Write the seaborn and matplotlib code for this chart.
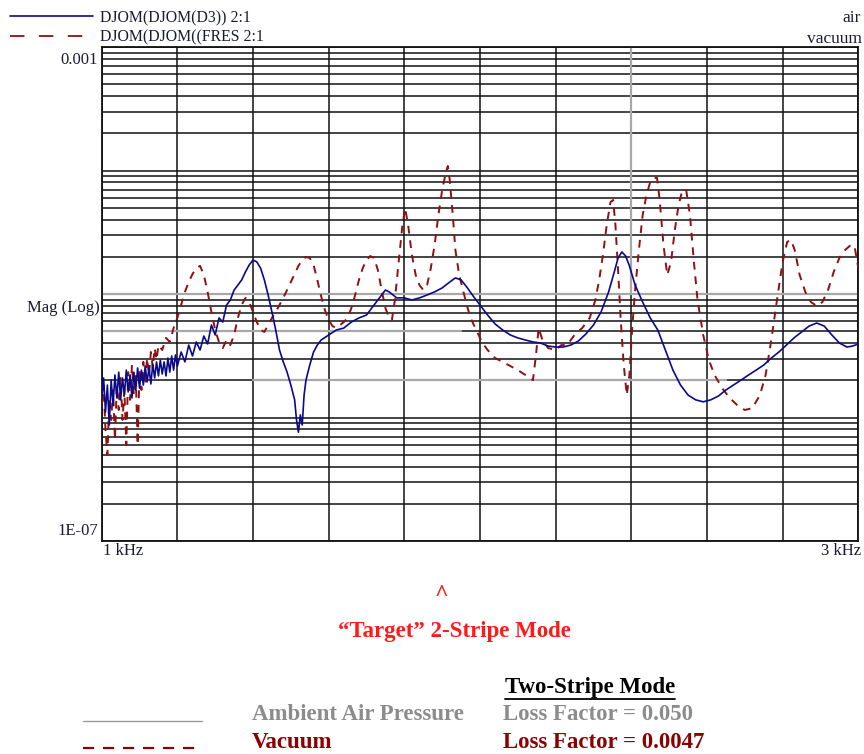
import numpy as np
import pandas as pd
import matplotlib
matplotlib.use("Agg")
import matplotlib.pyplot as plt
from matplotlib.lines import Line2D
from matplotlib.ticker import LogLocator, MultipleLocator, NullFormatter
import seaborn as sns

# ---------------- data ----------------
air_freq = [1000, 1005, 1010, 1015, 1020, 1025, 1030, 1035, 1040, 1045, 1050, 1055, 1060, 1065, 1070,
            1075, 1080, 1085, 1090, 1095, 1100, 1105, 1110, 1115, 1120, 1125, 1130, 1135, 1140, 1145,
            1150, 1155, 1160, 1165, 1170, 1175, 1180, 1185, 1190, 1195, 1200, 1210, 1220, 1230, 1240,
            1250, 1260, 1270, 1280, 1290, 1300, 1310, 1320, 1330, 1340, 1350, 1360, 1370, 1380, 1390,
            1400, 1410, 1420, 1430, 1440, 1450, 1460, 1470, 1480, 1490, 1500, 1510, 1515, 1520, 1525,
            1530, 1535, 1540, 1550, 1560, 1570, 1580, 1600, 1620, 1640, 1660, 1680, 1700, 1720, 1740,
            1750, 1760, 1780, 1800, 1820, 1840, 1860, 1880, 1900, 1920, 1935, 1950, 1965, 1980, 2000,
            2020, 2040, 2060, 2080, 2100, 2120, 2140, 2160, 2180, 2200, 2220, 2240, 2260, 2280, 2300,
            2320, 2340, 2355, 2365, 2375, 2385, 2395, 2410, 2430, 2450, 2470, 2490, 2510, 2530, 2550,
            2570, 2590, 2610, 2630, 2650, 2670, 2690, 2710, 2730, 2750, 2770, 2790, 2810, 2830, 2850,
            2870, 2890, 2910, 2930, 2950, 2970, 2985, 3000]
air_mag = [1.39e-6, 2.09e-6, 1.11e-6, 1.83e-6, 8.7e-7, 2.01e-6, 1.26e-6, 2.21e-6, 1.44e-6, 2.33e-6,
           1.39e-6, 2.09e-6, 1.52e-6, 2.42e-6, 1.61e-6, 2.21e-6, 1.44e-6, 2.33e-6, 1.67e-6, 2.52e-6,
           1.73e-6, 2.42e-6, 1.83e-6, 2.61e-6, 1.94e-6, 2.52e-6, 1.87e-6, 2.71e-6, 2.09e-6, 2.82e-6,
           2.17e-6, 2.92e-6, 2.25e-6, 2.82e-6, 2.17e-6, 3.03e-6, 2.33e-6, 3.15e-6, 2.42e-6, 3.21e-6,
           2.61e-6, 3.39e-6, 2.82e-6, 3.86e-6, 3.15e-6, 4.09e-6, 3.52e-6, 4.57e-6, 3.94e-6, 5.61e-6,
           4.66e-6, 6.4e-6, 5.93e-6, 8.15e-6, 8.94e-6, 1.077e-5, 1.18e-5, 1.30e-5, 1.51e-5, 1.72e-5,
           1.885e-5, 1.82e-5, 1.62e-5, 1.30e-5, 9.81e-6, 7.15e-6, 5.11e-6, 3.52e-6, 2.82e-6, 2.33e-6,
           1.83e-6, 1.39e-6, 9.55e-7, 7.6e-7, 1.05e-6, 8.7e-7, 1.52e-6, 2.01e-6, 2.66e-6, 3.39e-6,
           3.86e-6, 4.24e-6, 4.66e-6, 5.11e-6, 5.3e-6, 5.93e-6, 6.4e-6, 6.76e-6, 8.15e-6, 9.81e-6,
           1.077e-5, 1.04e-5, 9.3e-6, 9.3e-6, 8.94e-6, 9.3e-6, 9.81e-6, 1.04e-5, 1.12e-5, 1.25e-5,
           1.35e-5, 1.30e-5, 1.14e-5, 9.81e-6, 8.15e-6, 6.76e-6, 5.72e-6, 5.11e-6, 4.66e-6, 4.41e-6,
           4.24e-6, 4.09e-6, 4.01e-6, 3.79e-6, 3.72e-6, 3.72e-6, 3.86e-6, 4.16e-6, 4.75e-6, 5.61e-6,
           7.15e-6, 1.04e-5, 1.51e-5, 1.96e-5, 2.19e-5, 2.03e-5, 1.69e-5, 1.18e-5, 8.6e-6, 6.4e-6,
           5.11e-6, 3.52e-6, 2.42e-6, 1.83e-6, 1.52e-6, 1.39e-6, 1.34e-6, 1.39e-6, 1.49e-6, 1.67e-6,
           1.83e-6, 2.01e-6, 2.21e-6, 2.42e-6, 2.66e-6, 3.03e-6, 3.39e-6, 3.86e-6, 4.41e-6, 4.93e-6,
           5.5e-6, 5.82e-6, 5.5e-6, 4.66e-6, 4.01e-6, 3.72e-6, 3.79e-6, 3.94e-6]

vac_freq = [1000, 1005, 1010, 1015, 1020, 1025, 1030, 1035, 1040, 1045, 1050, 1055, 1060, 1065, 1070,
            1075, 1080, 1085, 1090, 1095, 1100, 1105, 1110, 1115, 1120, 1125, 1130, 1135, 1140, 1145,
            1150, 1160, 1170, 1180, 1190, 1200, 1210, 1220, 1230, 1240, 1250, 1260, 1270, 1280, 1290,
            1300, 1310, 1320, 1330, 1340, 1350, 1360, 1370, 1380, 1390, 1400, 1410, 1420, 1430, 1440,
            1450, 1460, 1470, 1480, 1490, 1500, 1510, 1520, 1530, 1540, 1550, 1560, 1570, 1580, 1590,
            1600, 1610, 1620, 1630, 1640, 1650, 1660, 1670, 1680, 1690, 1700, 1710, 1720, 1730, 1740,
            1750, 1760, 1767, 1775, 1785, 1795, 1802, 1810, 1820, 1830, 1840, 1850, 1860, 1870, 1880,
            1890, 1900, 1910, 1915, 1920, 1928, 1935, 1945, 1955, 1965, 1975, 1990, 2005, 2020, 2040,
            2060, 2080, 2100, 2120, 2140, 2148, 2155, 2165, 2180, 2200, 2215, 2230, 2250, 2270, 2290,
            2305, 2315, 2325, 2335, 2345, 2352, 2358, 2365, 2372, 2380, 2388, 2395, 2402, 2410, 2420,
            2430, 2440, 2450, 2460, 2468, 2475, 2485, 2495, 2505, 2515, 2525, 2535, 2545, 2555, 2565,
            2575, 2590, 2605, 2620, 2640, 2660, 2680, 2700, 2720, 2740, 2755, 2770, 2785, 2800, 2812,
            2822, 2832, 2845, 2860, 2875, 2890, 2905, 2920, 2935, 2950, 2965, 2980, 2990, 3000]
vac_mag = [1.26e-6, 1.83e-6, 7.92e-7, 4.97e-7, 1.39e-6, 9.55e-7, 1.67e-6, 6.57e-7, 1.83e-6, 1.15e-6,
           2.09e-6, 9.55e-7, 1.67e-6, 5.99e-7, 2.33e-6, 1.39e-6, 2.66e-6, 1.52e-6, 2.21e-6, 5.99e-7,
           2.42e-6, 1.67e-6, 2.82e-6, 1.83e-6, 3.03e-6, 2.21e-6, 3.39e-6, 2.52e-6, 3.65e-6, 2.92e-6,
           3.86e-6, 3.52e-6, 4.41e-6, 4.09e-6, 5.3e-6, 6.4e-6, 8.15e-6, 1.04e-5, 1.25e-5, 1.45e-5,
           1.62e-5, 1.69e-5, 1.425e-5, 1.04e-5, 7.15e-6, 5.11e-6, 4.09e-6, 3.65e-6, 4.24e-6, 3.86e-6,
           4.66e-6, 6.4e-6, 8.15e-6, 9.3e-6, 8.6e-6, 7.15e-6, 5.93e-6, 5.11e-6, 4.93e-6, 5.61e-6,
           6.4e-6, 7.15e-6, 8.15e-6, 9.3e-6, 1.077e-5, 1.25e-5, 1.45e-5, 1.69e-5, 1.885e-5, 1.99e-5,
           1.96e-5, 1.72e-5, 1.30e-5, 9.6e-6, 7.42e-6, 6.16e-6, 5.5e-6, 5.3e-6, 5.61e-6, 5.93e-6,
           6.4e-6, 7.7e-6, 9.81e-6, 1.30e-5, 1.62e-5, 1.885e-5, 2.03e-5, 1.96e-5, 1.565e-5, 1.077e-5,
           7.7e-6, 6.4e-6, 6.16e-6, 8.94e-6, 1.82e-5, 3.62e-5, 4.97e-5, 3.62e-5, 2.07e-5, 1.425e-5,
           1.18e-5, 1.077e-5, 1.18e-5, 1.62e-5, 2.49e-5, 4.36e-5, 6.95e-5, 9.72e-5, 1.088e-4, 8.4e-5,
           4.36e-5, 2.27e-5, 1.425e-5, 1.077e-5, 8.15e-6, 6.4e-6, 5.11e-6, 4.09e-6, 3.52e-6, 3.03e-6,
           2.82e-6, 2.61e-6, 2.42e-6, 2.21e-6, 2.01e-6, 3.21e-6, 5.3e-6, 4.24e-6, 3.65e-6, 3.52e-6,
           3.86e-6, 3.86e-6, 4.66e-6, 5.3e-6, 6.4e-6, 8.94e-6, 1.30e-5, 2.07e-5, 3.62e-5, 5.56e-5,
           5.77e-5, 3.62e-5, 1.565e-5, 6.16e-6, 2.66e-6, 1.52e-6, 2.21e-6, 5.11e-6, 1.077e-5, 2.27e-5,
           4.36e-5, 6.33e-5, 8.07e-5, 8.7e-5, 8.7e-5, 5.77e-5, 2.49e-5, 1.425e-5, 1.82e-5, 3.30e-5,
           5.26e-5, 6.95e-5, 6.95e-5, 4.36e-5, 1.885e-5, 8.94e-6, 4.66e-6, 2.92e-6, 2.21e-6, 1.73e-6,
           1.44e-6, 1.26e-6, 1.15e-6, 1.19e-6, 1.52e-6, 2.21e-6, 4.24e-6, 8.94e-6, 1.82e-5, 2.64e-5,
           2.74e-5, 2.27e-5, 1.425e-5, 1.04e-5, 8.6e-6, 8.0e-6, 8.6e-6, 1.077e-5, 1.51e-5, 1.96e-5,
           2.27e-5, 2.49e-5, 2.45e-5, 1.62e-5]

series_names = ["DJOM(DJOM(D3)) 2:1", "DJOM(DJOM((FRES 2:1"]
series_tags = ["air", "vacuum"]
y_tick_labels = ["0.001", "1E-07"]
x_tick_labels = ["1 kHz", "3 kHz"]
y_label = "Mag (Log)"
caption = "\u201cTarget\u201d 2-Stripe Mode"
table_head = "Two-Stripe Mode"
row_names = ["Ambient Air Pressure", "Vacuum"]
row_values = ["Loss Factor = 0.050", "Loss Factor = 0.0047"]

# ---------------- styling ----------------
sns.set_style("white")
plt.rcParams["font.family"] = ["Liberation Serif", "DejaVu Serif"]

NAVY = "#0a0a8a"
DKRED = "#8f1010"
GREY = "#8c8c8c"
RED = "#ff1a1a"
TXT = "#1a1a33"

W, H = 864, 754
fig = plt.figure(figsize=(W / 100, H / 100), dpi=100)
L, R, T, B = 101.7, 858.3, 47.0, 541.0
ax = fig.add_axes([L / W, 1 - B / H, (R - L) / W, (B - T) / H])

df_air = pd.DataFrame({"freq": air_freq, "mag": air_mag})
df_vac = pd.DataFrame({"freq": vac_freq, "mag": vac_mag})

ax.set_yscale("log")
ax.set_xlim(1000, 3000)
ax.set_ylim(1e-7, 1e-3)

# grid
ax.xaxis.set_major_locator(MultipleLocator(200))
ax.yaxis.set_major_locator(LogLocator(base=10, numticks=10))
ax.yaxis.set_minor_locator(LogLocator(base=10, subs=np.arange(2, 10), numticks=100))
ax.yaxis.set_minor_formatter(NullFormatter())
ax.grid(True, which="major", axis="both", color="#111111", linewidth=1.1)
ax.grid(True, which="minor", axis="y", color="#111111", linewidth=1.1)
ax.tick_params(which="both", length=0, labelleft=False, labelbottom=False)
ax.set_axisbelow(True)
for s in ax.spines.values():
    s.set_color("#111111")
    s.set_linewidth(1.3)

# grey overlay lines from the second (grey-grid) chart
ax.axhline(1e-5, color="#a8a8a8", linewidth=1.6, zorder=1.5)
ax.plot([1000, 1950], [5e-6, 5e-6], color="#a8a8a8", linewidth=1.6, zorder=1.5)
ax.plot([1400, 2650], [2e-6, 2e-6], color="#a8a8a8", linewidth=1.6, zorder=1.5)
ax.axvline(2400, ymin=0.5, ymax=1.0, color="#a8a8a8", linewidth=1.6, zorder=1.5)

sns.lineplot(data=df_vac, x="freq", y="mag", ax=ax, color=DKRED, linewidth=1.4,
             linestyle=(0, (4, 3.5)), estimator=None, sort=False, zorder=3)
sns.lineplot(data=df_air, x="freq", y="mag", ax=ax, color=NAVY, linewidth=1.2,
             estimator=None, sort=False, zorder=4)
ax.set_xlabel("")
ax.set_ylabel("")


def fx(px):
    return px / W


def fy(py):
    return 1 - py / H


fs = 12
lfs = 11.3
# top-left legend
fig.add_artist(Line2D([fx(10), fx(93)], [fy(16), fy(16)], color=NAVY, linewidth=1.2))
fig.add_artist(Line2D([fx(10), fx(93)], [fy(36), fy(36)], color=DKRED, linewidth=1.3,
                      linestyle=(0, (8, 8))))
fig.text(fx(100), fy(18), series_names[0], fontsize=lfs, color=TXT, va="center", ha="left")
fig.text(fx(100), fy(37), series_names[1], fontsize=lfs, color=TXT, va="center", ha="left")
fig.text(fx(861), fy(18), series_tags[0], fontsize=12.5, color=TXT, va="center", ha="right")
fig.text(fx(862), fy(39), series_tags[1], fontsize=12.5, color=TXT, va="center", ha="right")

# axis labels as text
fig.text(fx(98), fy(60), y_tick_labels[0], fontsize=fs, color=TXT, va="center", ha="right")
fig.text(fx(98), fy(531), y_tick_labels[1], fontsize=fs, color=TXT, va="center", ha="right")
fig.text(fx(100), fy(308), y_label, fontsize=fs, color=TXT, va="center", ha="right")
fig.text(fx(103), fy(551), x_tick_labels[0], fontsize=fs, color=TXT, va="center", ha="left")
fig.text(fx(861), fy(551), x_tick_labels[1], fontsize=fs, color=TXT, va="center", ha="right")

# caption
fig.text(fx(441), fy(594), "^", fontsize=17, color=RED, fontweight="bold", va="center", ha="center")
fig.text(fx(454), fy(632), caption, fontsize=16.5, color=RED, fontweight="bold", va="center", ha="center")

# bottom table
bfs = 16.5
fig.text(fx(505), fy(688), table_head, fontsize=bfs, color="black", fontweight="bold",
         va="center", ha="left")
fig.add_artist(Line2D([fx(505), fx(675)], [fy(699), fy(699)], color="black", linewidth=1.3))
fig.text(fx(252), fy(714), row_names[0], fontsize=bfs, color=GREY, fontweight="bold",
         va="center", ha="left")
fig.text(fx(503), fy(714), row_values[0], fontsize=bfs, color=GREY, fontweight="bold",
         va="center", ha="left")
fig.text(fx(252), fy(742), row_names[1], fontsize=bfs, color="#8b0000", fontweight="bold",
         va="center", ha="left")
fig.text(fx(503), fy(742), row_values[1], fontsize=bfs, color="#8b0000", fontweight="bold",
         va="center", ha="left")
fig.add_artist(Line2D([fx(83), fx(202)], [fy(721), fy(721)], color="#9a9a9a", linewidth=1.0))
fig.add_artist(Line2D([fx(83), fx(202)], [fy(748), fy(748)], color="#8b0000", linewidth=1.6,
                      linestyle=(0, (5, 4))))

fig.savefig("out.png", dpi=100)
